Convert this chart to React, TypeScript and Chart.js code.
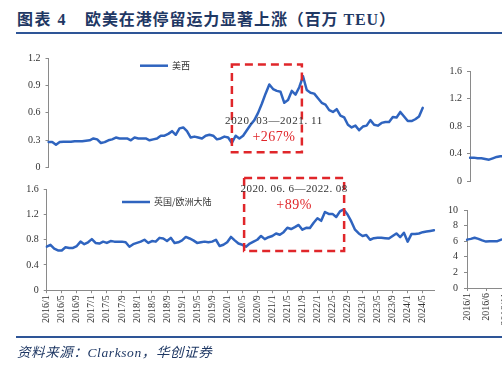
import React, { useEffect, useRef } from "react";
import { Chart, registerables } from "chart.js";

Chart.register(...registerables);

// ---------- categories ----------
const months: string[] = [];
for (let yr = 2016; yr <= 2024; yr++) {
  for (let m = 1; m <= 12; m++) {
    if (yr === 2024 && m > 8) break;
    months.push(`${yr}/${m}`);
  }
}

// ---------- series (百万 TEU) ----------
const usWest: number[] = [
  0.28, 0.28, 0.25, 0.28, 0.285, 0.285, 0.285, 0.29, 0.29, 0.29,
  0.295, 0.3, 0.32, 0.31, 0.27, 0.28, 0.3, 0.31, 0.33, 0.32,
  0.32, 0.32, 0.3, 0.33, 0.32, 0.32, 0.32, 0.3, 0.31, 0.32,
  0.35, 0.35, 0.37, 0.4, 0.36, 0.43, 0.44, 0.4, 0.33, 0.34,
  0.33, 0.32, 0.35, 0.36, 0.35, 0.31, 0.32, 0.34, 0.33, 0.27,
  0.35, 0.32, 0.35, 0.41, 0.47, 0.52, 0.6, 0.7, 0.81, 0.91,
  0.86, 0.84, 0.83, 0.71, 0.74, 0.84, 0.8, 0.88, 1.0, 0.85,
  0.82, 0.81, 0.76, 0.71, 0.69, 0.63, 0.61, 0.64, 0.57, 0.55,
  0.47, 0.44, 0.46, 0.41, 0.45, 0.46, 0.52, 0.47, 0.46, 0.49,
  0.5, 0.5, 0.555, 0.55, 0.61, 0.56, 0.51, 0.51, 0.53, 0.56,
  0.655,
];

const ukEurope: number[] = [
  0.69, 0.72, 0.66, 0.63, 0.63, 0.68, 0.67, 0.67, 0.7, 0.77,
  0.73, 0.76, 0.81, 0.75, 0.74, 0.77, 0.75, 0.78, 0.77, 0.77,
  0.77, 0.76, 0.69, 0.73, 0.75, 0.77, 0.8, 0.75, 0.78, 0.77,
  0.83, 0.82, 0.78, 0.83, 0.75, 0.76, 0.79, 0.845, 0.82, 0.79,
  0.75, 0.76, 0.77, 0.76, 0.77, 0.8, 0.7, 0.72, 0.76, 0.845,
  0.79, 0.74, 0.72, 0.69, 0.74, 0.77, 0.8, 0.86, 0.81, 0.84,
  0.86, 0.9, 0.88, 0.92, 0.99, 0.97, 1.0, 1.035, 0.96, 0.99,
  0.985, 1.07, 1.14, 1.1, 1.24, 1.21, 1.21, 1.16, 1.25, 1.28,
  1.2, 1.09, 0.96, 0.9, 0.86, 0.875, 0.8, 0.825, 0.83, 0.83,
  0.825, 0.82, 0.86, 0.9, 0.84, 0.91, 0.77, 0.89, 0.89, 0.9,
  0.92, 0.93, 0.94, 0.95,
];

// partially visible panels on the right edge
const rightMonths: string[] = months.slice(0, 12);
const rightTopValues: number[] = [0.34, 0.34, 0.33, 0.33, 0.32, 0.31, 0.33, 0.35, 0.36, 0.36, 0.36, 0.37];
const rightBottomValues: number[] = [6.2, 6.3, 6.45, 6.3, 6.1, 5.95, 6.0, 6.0, 6.0, 6.2, 6.3, 6.3];

// ---------- styles ----------
const BLUE = "#2f64bf";
const RED = "#e0262a";
const AXIS = "#8a8a8a";
const TXT = "#333333";
const NAVY = "#1f3864";
const SERIF = '"Liberation Serif", "Times New Roman", serif';
const MIXED = '"Liberation Serif", "Noto Sans CJK SC", serif';
const CJK = '"Noto Sans CJK SC", sans-serif';

type Note = { text: string; at: number; y: number; color: string; font: string; spacing: string };
type Panel = {
  left: number; top: number; width: number; height: number;
  labels: string[]; values: number[]; name: string;
  yMax: number; yStep: number; yAxisWidth: number; yPad: number;
  xEvery: number; xAxisHeight: number;
  padding: { left: number; right: number; top: number; bottom: number };
  legendAt?: [number, number];
  box?: { from: number; to: number; top: number; bottom: number };
  notes?: Note[];
};

const panels: Panel[] = [
  {
    left: 0, top: 40, width: 440, height: 140,
    labels: months, values: usWest, name: "美西",
    yMax: 1.2, yStep: 0.3, yAxisWidth: 48.5, yPad: 5,
    xEvery: 0, xAxisHeight: 0,
    padding: { left: 0, right: 6, top: 18, bottom: 12.3 },
    legendAt: [140, 25.7],
    box: { from: 49, to: 67.7, top: 1.13, bottom: 0.17 },
    notes: [
      { text: "2020. 03—2021. 11", at: 60.25, y: 0.515, color: TXT, font: `11px ${SERIF}`, spacing: "0.6px" },
      { text: "+267%", at: 60.25, y: 0.327, color: RED, font: `14px ${SERIF}`, spacing: "0.5px" },
    ],
  },
  {
    left: 0, top: 170, width: 440, height: 160,
    labels: months, values: ukEurope, name: "英国/欧洲大陆",
    yMax: 1.6, yStep: 0.4, yAxisWidth: 46.7, yPad: 5,
    xEvery: 4, xAxisHeight: 39.8,
    padding: { left: 0, right: 6, top: 19.3, bottom: 0 },
    legendAt: [122, 32],
    box: { from: 52.5, to: 79.1, top: 1.78, bottom: 0.622 },
    notes: [
      { text: "2020. 06. 6—2022. 08", at: 65.8, y: 1.6, color: TXT, font: `11px ${SERIF}`, spacing: "0.4px" },
      { text: "+89%", at: 65.8, y: 1.351, color: RED, font: `14px ${SERIF}`, spacing: "0.5px" },
    ],
  },
  {
    left: 440, top: 40, width: 120, height: 160,
    labels: rightMonths, values: rightTopValues, name: "",
    yMax: 1.6, yStep: 0.4, yAxisWidth: 30, yPad: 5,
    xEvery: 0, xAxisHeight: 0,
    padding: { left: 0, right: 48.2, top: 31, bottom: 19 },
  },
  {
    left: 437, top: 195, width: 120, height: 135,
    labels: rightMonths, values: rightBottomValues, name: "",
    yMax: 10, yStep: 2, yAxisWidth: 30, yPad: 6,
    xEvery: 5, xAxisHeight: 42,
    padding: { left: 0, right: 48.2, top: 15, bottom: 0 },
  },
];

function makeDecor(p: Panel) {
  return {
    id: "decor",
    afterDatasetsDraw(chart: any) {
      const { ctx, scales } = chart;
      const xs = scales.x;
      const ys = scales.y;
      ctx.save();
      if (p.box) {
        const l = xs.getPixelForValue(p.box.from);
        const r = xs.getPixelForValue(p.box.to);
        const t = ys.getPixelForValue(p.box.top);
        const b = ys.getPixelForValue(p.box.bottom);
        ctx.strokeStyle = RED;
        ctx.lineWidth = 2.5;
        ctx.setLineDash([8, 5]);
        ctx.strokeRect(l, t, r - l, b - t);
        ctx.setLineDash([]);
      }
      if (p.notes) {
        ctx.textAlign = "center";
        ctx.textBaseline = "middle";
        for (const n of p.notes) {
          ctx.font = n.font;
          ctx.fillStyle = n.color;
          try {
            (ctx as any).letterSpacing = n.spacing;
          } catch (e) {}
          ctx.fillText(n.text, xs.getPixelForValue(n.at), ys.getPixelForValue(n.y));
          try {
            (ctx as any).letterSpacing = "0px";
          } catch (e) {}
        }
      }
      if (p.legendAt) {
        const [lx, ly] = p.legendAt;
        const ds = chart.data.datasets[0];
        ctx.strokeStyle = ds.borderColor;
        ctx.lineWidth = 2.5;
        ctx.beginPath();
        ctx.moveTo(lx, ly);
        ctx.lineTo(lx + 28, ly);
        ctx.stroke();
        ctx.font = `9px ${CJK}`;
        ctx.fillStyle = TXT;
        ctx.textAlign = "left";
        ctx.textBaseline = "middle";
        ctx.fillText(ds.label, lx + 32, ly);
      }
      ctx.restore();
    },
  };
}

function fmt(v: number) {
  return String(Number(Number(v).toFixed(1)));
}

export default function App() {
  const refs = useRef<(HTMLCanvasElement | null)[]>([]);

  useEffect(() => {
    const charts: Chart[] = [];
    panels.forEach((p, idx) => {
      const cv = refs.current[idx];
      if (!cv) return;
      const chart = new Chart(cv, {
        type: "line",
        data: {
          labels: p.labels,
          datasets: [
            {
              label: p.name,
              data: p.values,
              borderColor: BLUE,
              borderWidth: 2.5,
              pointRadius: 0,
              tension: 0,
              fill: false,
              borderJoinStyle: "round",
              borderCapStyle: "round",
            } as any,
          ],
        },
        options: {
          responsive: false,
          animation: false,
          devicePixelRatio: 1,
          layout: { padding: p.padding },
          plugins: { legend: { display: false }, tooltip: { enabled: false } },
          scales: {
            x: {
              type: "category",
              display: p.xEvery > 0,
              offset: false,
              grid: {
                drawOnChartArea: false,
                drawTicks: true,
                tickLength: 3,
                color: AXIS,
              },
              border: { display: true, color: AXIS, width: 1 },
              ticks: {
                autoSkip: false,
                maxRotation: 90,
                minRotation: 90,
                padding: 2,
                color: TXT,
                font: { family: SERIF, size: 10 },
                callback: (_v: any, i: number) =>
                  p.xEvery > 0 && i % p.xEvery === 0 ? p.labels[i] : null,
              },
              afterFit: (s: any) => {
                if (p.xEvery > 0) s.height = p.xAxisHeight;
              },
            },
            y: {
              min: 0,
              max: p.yMax,
              grid: {
                drawOnChartArea: false,
                drawTicks: true,
                tickLength: 3,
                color: AXIS,
              },
              border: { display: true, color: AXIS, width: 1 },
              ticks: {
                stepSize: p.yStep,
                padding: p.yPad,
                color: TXT,
                font: { family: SERIF, size: 10 },
                callback: (v: any) => fmt(v),
              },
              afterFit: (s: any) => {
                s.width = p.yAxisWidth;
              },
            },
          },
        },
        plugins: [makeDecor(p)],
      });
      charts.push(chart);
    });
    return () => charts.forEach((c) => c.destroy());
  }, []);

  return (
    <div
      style={{
        position: "fixed",
        left: 0,
        top: 0,
        width: 502,
        height: 366,
        overflow: "hidden",
        background: "#ffffff",
      }}
    >
      <div
        style={{
          position: "absolute",
          left: 17,
          top: 6,
          lineHeight: "20px",
          font: `bold 16px ${MIXED}`,
          color: NAVY,
          whiteSpace: "nowrap",
          letterSpacing: "1.5px",
        }}
      >
        图表 4
      </div>
      <div
        style={{
          position: "absolute",
          left: 85,
          top: 6,
          lineHeight: "20px",
          font: `bold 16px ${MIXED}`,
          color: NAVY,
          whiteSpace: "nowrap",
          letterSpacing: "0.9px",
        }}
      >
        欧美在港停留运力显著上涨（百万 TEU）
      </div>
      <div
        style={{
          position: "absolute",
          left: 16,
          top: 32,
          width: 486,
          height: 2,
          background: "#2e5597",
        }}
      />
      {panels.map((p, i) => (
        <canvas
          key={i}
          ref={(el) => {
            refs.current[i] = el;
          }}
          width={p.width}
          height={p.height}
          style={{
            position: "absolute",
            left: p.left,
            top: p.top,
            width: p.width,
            height: p.height,
          }}
        />
      ))}
      <div
        style={{
          position: "absolute",
          left: 16,
          top: 336,
          width: 486,
          height: 2,
          background: "#2e5597",
        }}
      />
      <div
        style={{
          position: "absolute",
          left: 17,
          top: 341,
          lineHeight: "18px",
          font: `italic 13.5px ${MIXED}`,
          color: NAVY,
          whiteSpace: "nowrap",
          letterSpacing: "0.6px",
        }}
      >
        资料来源：Clarkson，华创证券
      </div>
    </div>
  );
}
